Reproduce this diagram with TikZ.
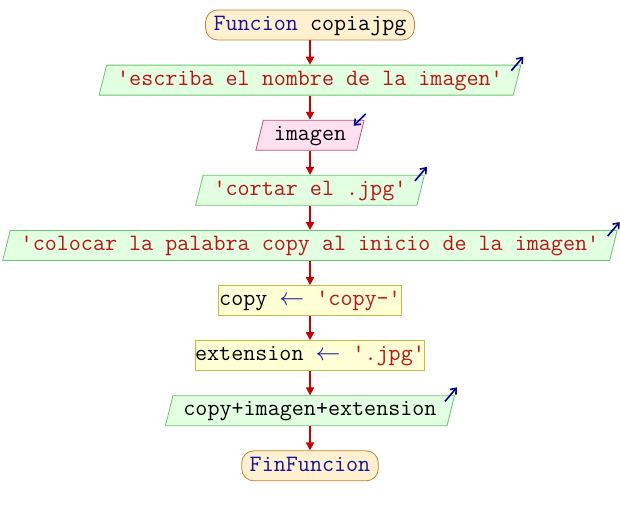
\documentclass[tikz,border=0pt]{standalone}
\usepackage{fontspec}
\usetikzlibrary{shapes.geometric,arrows.meta,positioning}
\definecolor{flujoRojo}{RGB}{204,0,0}
\definecolor{textoRojo}{RGB}{190,20,20}
\definecolor{claveAzul}{RGB}{20,20,160}
\definecolor{iconoAzul}{RGB}{0,0,150}
\definecolor{termFondo}{RGB}{255,240,208}
\definecolor{termBorde}{RGB}{196,132,56}
\definecolor{salFondo}{RGB}{226,255,226}
\definecolor{salBorde}{RGB}{110,196,110}
\definecolor{entFondo}{RGB}{255,224,240}
\definecolor{entBorde}{RGB}{196,80,124}
\definecolor{asigFondo}{RGB}{255,255,214}
\definecolor{asigBorde}{RGB}{196,190,64}
\newcommand{\cadena}[1]{\textcolor{textoRojo}{#1}}
\newcommand{\clave}[1]{\textcolor{claveAzul}{#1}}
\newcommand{\asig}{\textcolor{claveAzul}{$\leftarrow$}}
\begin{document}
\begin{tikzpicture}[x=1pt,y=1pt,node distance=24.3pt,
    font=\ttfamily\fontsize{23.4}{27}\selectfont,
    base/.style={minimum height=30pt, inner ysep=0pt, text height=14.5pt, text depth=4pt, line width=0.8pt},
    terminal/.style={base, rectangle, rounded corners=12pt, inner xsep=8pt, fill=termFondo, draw=termBorde},
    salida/.style={base, trapezium, trapezium left angle=68, trapezium right angle=112,
        trapezium stretches body, inner xsep=10.5pt, fill=salFondo, draw=salBorde},
    entrada/.style={salida, fill=entFondo, draw=entBorde},
    asignar/.style={base, rectangle, inner xsep=1pt, fill=asigFondo, draw=asigBorde},
    flecha/.style={-{Triangle[length=8pt,width=8pt]}, line width=1.8pt, flujoRojo},
    icono/.style={-{Straight Barb[length=5pt,width=8pt]}, line width=1.6pt, iconoAzul}]
  \useasboundingbox (0,0) rectangle (620,-515);
  % Nodes of the flowchart
  \node[terminal] (inicio) at (310,-25) {\clave{Funcion} copiajpg};
  \node[salida, below=of inicio] (pedir) {\cadena{'escriba el nombre de la imagen'}};
  \node[entrada, below=of pedir] (leer) {imagen};
  \node[salida, below=of leer] (cortar) {\cadena{'cortar el .jpg'}};
  \node[salida, below=of cortar] (colocar) {\cadena{'colocar la palabra copy al inicio de la imagen'}};
  \node[asignar, below=of colocar] (copia) {copy \asig{} \cadena{'copy-'}};
  \node[asignar, below=of copia, inner xsep=0pt] (ext) {extension \asig{} \cadena{'.jpg'}};
  \node[salida, below=of ext] (mostrar) {copy+imagen+extension};
  \node[terminal, below=of mostrar] (fin) {\clave{FinFuncion}};
  % Connectors
  \foreach \a/\b in {inicio/pedir, pedir/leer, leer/cortar, cortar/colocar,
      colocar/copia, copia/ext, ext/mostrar, mostrar/fin}
    \draw[flecha] (\a.south) -- (\b.north);
  % Output / input icons
  \foreach \n in {pedir, cortar, colocar, mostrar}
    \draw[icono] ([shift={(-10pt,-6pt)}]\n.top right corner) -- ([shift={(2pt,8pt)}]\n.top right corner);
  \draw[icono] ([shift={(1pt,6pt)}]leer.top right corner) -- ([shift={(-11pt,-6pt)}]leer.top right corner);
\end{tikzpicture}
\end{document}
